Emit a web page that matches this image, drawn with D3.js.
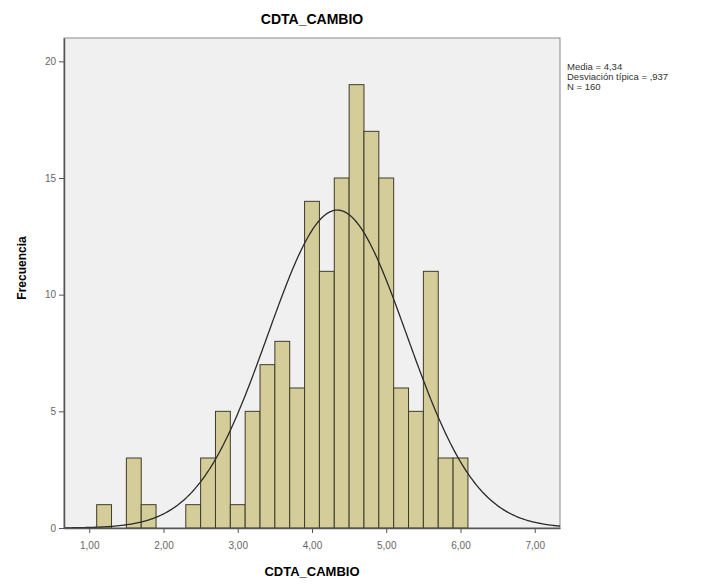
<!DOCTYPE html>
<style>
    body{ margin:0; background:#fff; }
    svg{ font-family:Arial,"Liberation Sans",sans-serif; }
</style>
<svg width="710" height="584"></svg>
<script src="https://d3js.org/d3.v7.min.js"></script>
<script>
    // histogram of CDTA_CAMBIO, bins of width 0.2 starting at 1.1
    var binStarts=[1.1,1.3,1.5,1.7,1.9,2.1,2.3,2.5,2.7,2.9,3.1,3.3,3.5,3.7,3.9,4.1,4.3,4.5,4.7,4.9,5.1,5.3,5.5,5.7,5.9];
    var counts=[1,0,3,1,0,0,1,3,5,1,5,7,8,6,14,11,15,19,17,15,6,5,11,3,3];
    var binWidth=0.2;
    var xTicks=[1,2,3,4,5,6,7];
    var yTicks=[0,5,10,15,20];
    var mean=4.34, sd=0.937, n=160;
    var statLines=["Media = 4,34","Desviación típica = ,937","N = 160"];

    var svg=d3.select("svg");
    var pLeft=64,pRight=560,pTop=38,pBottom=528;

    var x=d3.scaleLinear().domain([0.66,7.34]).range([pLeft,pRight]);
    var y=d3.scaleLinear().domain([0,21]).range([pBottom,pTop]);

    svg.append("rect")
        .attr("x",pLeft).attr("y",pTop)
        .attr("width",pRight-pLeft).attr("height",pBottom-pTop)
        .attr("fill","#f0f0f0")
        .attr("stroke","#8a8a8a");

    var bars=binStarts.map(function(b,i){ return {x0:b,x1:b+binWidth,n:counts[i]}; })
        .filter(function(d){ return d.n>0; });

    svg.selectAll("rect.bar")
        .data(bars)
        .enter().append("rect")
        .attr("class","bar")
        .attr("x",function(d){ return x(d.x0); })
        .attr("y",function(d){ return y(d.n); })
        .attr("width",function(d){ return x(d.x1)-x(d.x0); })
        .attr("height",function(d){ return y(0)-y(d.n); })
        .attr("fill","#d4cd99")
        .attr("stroke","#3f3c28")
        .attr("stroke-width",1);

    // normal curve scaled to counts
    var k=n*binWidth/(sd*Math.sqrt(2*Math.PI));
    var pts=d3.range(0,401).map(function(i){
        var v=0.66+(7.34-0.66)*i/400;
        return [v,k*Math.exp(-0.5*Math.pow((v-mean)/sd,2))];
    });
    svg.append("path")
        .datum(pts)
        .attr("fill","none")
        .attr("stroke","#2a2a2a")
        .attr("stroke-width",1.3)
        .attr("d",d3.line().x(function(d){ return x(d[0]); }).y(function(d){ return y(d[1]); }));

    var fmt=function(d){ return d3.format(".2f")(d).replace(".",","); };

    var gx=svg.append("g")
        .attr("transform","translate(0,"+pBottom+")")
        .call(d3.axisBottom(x).tickValues(xTicks).tickFormat(fmt).tickSize(5).tickSizeOuter(0));
    var gy=svg.append("g")
        .attr("transform","translate("+pLeft+",0)")
        .call(d3.axisLeft(y).tickValues(yTicks).tickSize(5).tickSizeOuter(0));

    [gx,gy].forEach(function(g){
        g.select(".domain").attr("stroke","#555").attr("stroke-width",1.5);
        g.selectAll(".tick line").attr("stroke","#555");
        g.selectAll(".tick text").attr("fill","#666").attr("font-size",10);
    });
    gx.selectAll(".tick text").attr("dy","1.3em");

    svg.append("text")
        .attr("x",312).attr("y",24)
        .attr("text-anchor","middle")
        .attr("font-size",14).attr("font-weight","bold")
        .text("CDTA_CAMBIO");

    svg.append("text")
        .attr("x",312).attr("y",576)
        .attr("text-anchor","middle")
        .attr("font-size",13).attr("font-weight","bold")
        .text("CDTA_CAMBIO");

    svg.append("text")
        .attr("transform","translate(26,268) rotate(-90)")
        .attr("text-anchor","middle")
        .attr("font-size",12).attr("font-weight","bold")
        .text("Frecuencia");

    svg.selectAll("text.stat")
        .data(statLines)
        .enter().append("text")
        .attr("class","stat")
        .attr("x",567)
        .attr("y",function(d,i){ return 70+i*10; })
        .attr("font-size",9.5)
        .attr("fill","#333")
        .text(function(d){ return d; });
</script>
